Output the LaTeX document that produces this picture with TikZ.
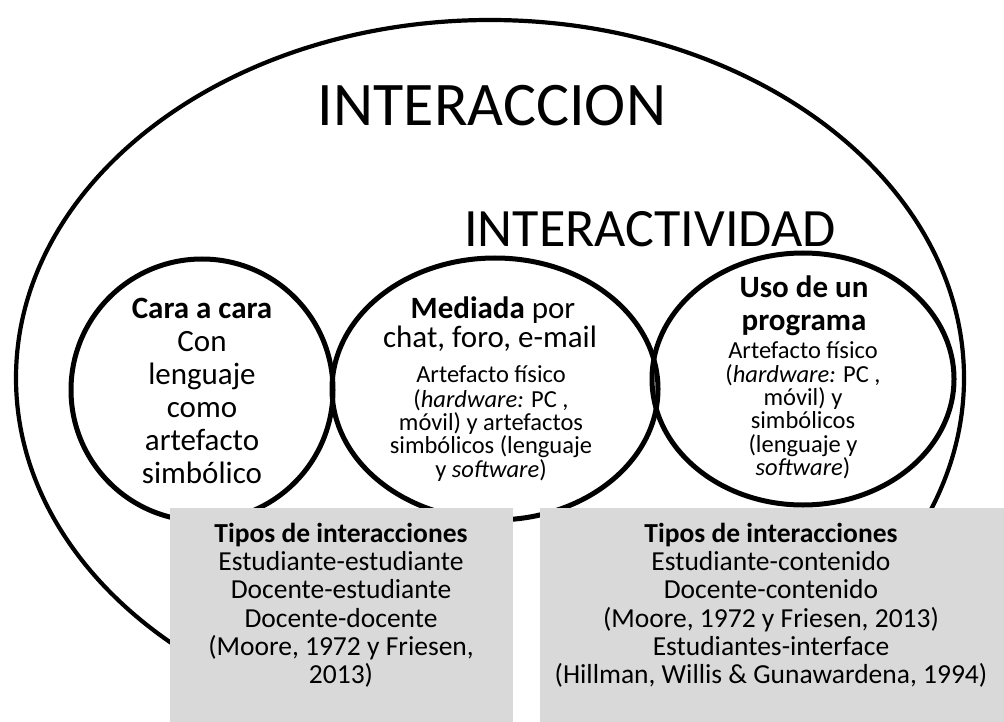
\documentclass[tikz,border=0pt]{standalone}
\usepackage{fontspec}
\setmainfont{Carlito}
\usetikzlibrary{shapes.geometric}
\definecolor{boxgray}{RGB}{217,217,217}
\begin{document}
\begin{tikzpicture}[x=1pt,y=-1pt,
  ring/.style={ellipse, draw=black, line width=#1, inner sep=0pt},
  ring/.default=5pt,
  graybox/.style={fill=boxgray, draw=none, inner sep=0pt, anchor=north west},
  line/.style={anchor=base, inner sep=0pt},
  bigtxt/.style={font=\fontsize{31}{33}\selectfont},
  smalltxt/.style={font=\fontsize{24.5}{24}\selectfont},
  boxtxt/.style={font=\fontsize{27.5}{28}\selectfont}]
\fill[white] (0,0) rectangle (1004,722);
\useasboundingbox (0,0) rectangle (1004,722);

% outer ellipse and circles
\node[ring=4.2pt, minimum width=948pt, minimum height=716pt] (outer) at (490,378) {};
\node[ring, minimum width=262pt, minimum height=262pt] (cara) at (202,390) {};
\node[ring, minimum width=326pt, minimum height=262pt] (med) at (495,389) {};
\node[ring, minimum width=302pt, minimum height=252pt] (uso) at (803,379) {};

% titles
\node[line, font=\fontsize{62}{62}\selectfont] (t1) at (492,126) {INTERACCION};
\node[line, font=\fontsize{54}{54}\selectfont] (t2) at (650,247) {INTERACTIVIDAD};

% gray boxes
\node[graybox, minimum width=343pt, minimum height=216pt] (box1) at (170,508) {};
\node[graybox, minimum width=464pt, minimum height=216pt] (box2) at (540,508) {};

% left circle text
\foreach \t/\y [count=\i] in {{\textbf{Cara a cara}}/318, Con/351, lenguaje/384, como/417, artefacto/450, simbólico/483}
  \node[line, bigtxt] (c\i) at (202,\y) {\t};

% middle circle text
\node[line, bigtxt] (m1) at (493,318) {\textbf{Mediada} por};
\node[line, bigtxt] (m2) at (490,347) {chat, foro, e-mail};
\foreach \t/\y [count=\i from 3] in {{Artefacto físico}/382, {(\textit{hardware:} PC ,}/407, {móvil) y artefactos}/430, {simbólicos (lenguaje}/453, {y \textit{software})}/477}
  \node[line, smalltxt] (m\i) at (491,\y) {\t};

% right circle text
\node[line, bigtxt] (u1) at (804,297) {\textbf{Uso de un}};
\node[line, bigtxt] (u2) at (804,330) {\textbf{programa}};
\foreach \t/\y [count=\i from 3] in {{Artefacto físico}/358, {(\textit{hardware:} PC ,}/382, {móvil) y}/405, {simbólicos}/428, {(lenguaje y}/452, {\textit{software})}/475}
  \node[line, smalltxt] (u\i) at (803,\y) {\t};

% box texts
\foreach \t/\y [count=\i] in {{\textbf{Tipos de interacciones}}/542, {Estudiante-estudiante}/570, {Docente-estudiante}/598, {Docente-docente}/627, {(Moore, 1972 y Friesen,}/655, {2013)}/683}
  \node[line, boxtxt] (a\i) at (341,\y) {\t};
\foreach \t/\y [count=\i] in {{\textbf{Tipos de interacciones}}/542, {Estudiante-contenido}/570, {Docente-contenido}/598, {(Moore, 1972 y Friesen, 2013)}/627, {Estudiantes-interface}/655, {(Hillman, Willis \& Gunawardena, 1994)}/683}
  \node[line, boxtxt] (b\i) at (771,\y) {\t};
\end{tikzpicture}
\end{document}
